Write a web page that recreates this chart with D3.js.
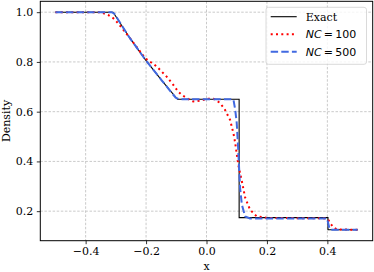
<!DOCTYPE html>
<html>
<head>
<meta charset="utf-8">
<script src="https://cdn.jsdelivr.net/npm/d3@7"></script>
<style>
  body { margin: 0; background: #fff; }
</style>
</head>
<body>
<div id="chart"></div>
<script>
// exact solution
const exactX = [-0.5, -0.309, -0.256, -0.203, -0.149, -0.096, 0.108, 0.108, 0.402, 0.402, 0.5];
const exactY = [1.0, 1.0, 0.90, 0.81, 0.727, 0.65, 0.65, 0.174, 0.174, 0.125, 0.125];

// NC = 100
const nc100X = [-0.5, -0.352, -0.326, -0.309, -0.293, -0.256, -0.203, -0.165, -0.132, -0.110, -0.094, -0.082, -0.066, -0.044, -0.022, 0.006, 0.023, 0.045, 0.061, 0.078, 0.089, 0.095, 0.105, 0.117, 0.128, 0.144, 0.166, 0.2, 0.39, 0.404, 0.412, 0.421, 0.432, 0.5];
const nc100Y = [1.0, 1.0, 0.989, 0.976, 0.956, 0.90, 0.815, 0.782, 0.741, 0.708, 0.681, 0.668, 0.655, 0.641, 0.644, 0.652, 0.652, 0.635, 0.608, 0.567, 0.514, 0.474, 0.387, 0.320, 0.254, 0.206, 0.179, 0.173, 0.171, 0.163, 0.147, 0.134, 0.127, 0.125];

// NC = 500
const nc500X = [-0.5, -0.314, -0.305, -0.256, -0.203, -0.149, -0.102, -0.09, 0.089, 0.095, 0.1, 0.105, 0.111, 0.117, 0.128, 0.144, 0.399, 0.407, 0.412, 0.5];
const nc500Y = [1.0, 1.0, 0.994, 0.90, 0.81, 0.727, 0.656, 0.65, 0.65, 0.608, 0.555, 0.447, 0.295, 0.226, 0.179, 0.171, 0.171, 0.13, 0.125, 0.125];

const xTicks = [-0.4, -0.2, 0.0, 0.2, 0.4];
const yTicks = [0.2, 0.4, 0.6, 0.8, 1.0];

const w = 374, h = 272;
const padL = 40.3, padR = 372.7, padT = 1.3, padB = 240.7;
const serif = '"DejaVu Serif", serif';
const sans = '"DejaVu Sans", sans-serif';

const svg = d3.select('#chart').append('svg')
  .attr('width', w).attr('height', h);

const xScale = d3.scaleLinear().domain([-0.55, 0.55]).range([padL, padR]);
const yScale = d3.scaleLinear().domain([0.08125, 1.04375]).range([padB, padT]);

// grid
svg.append('g').selectAll('line').data(xTicks).enter().append('line')
  .attr('x1', d => xScale(d)).attr('x2', d => xScale(d))
  .attr('y1', padT).attr('y2', padB)
  .attr('stroke', '#bcbcbc').attr('stroke-width', 0.8).attr('stroke-dasharray', '2.5,1.6');
svg.append('g').selectAll('line').data(yTicks).enter().append('line')
  .attr('y1', d => yScale(d)).attr('y2', d => yScale(d))
  .attr('x1', padL).attr('x2', padR)
  .attr('stroke', '#bcbcbc').attr('stroke-width', 0.8).attr('stroke-dasharray', '2.5,1.6');

const line = d3.line().x(d => xScale(d[0])).y(d => yScale(d[1]));
const zip = (a, b) => a.map((v, i) => [v, b[i]]);

svg.append('path').datum(zip(exactX, exactY)).attr('d', line)
  .attr('fill', 'none').attr('stroke', '#000').attr('stroke-width', 1.1);
svg.append('path').datum(zip(nc100X, nc100Y)).attr('d', line)
  .attr('fill', 'none').attr('stroke', 'red').attr('stroke-width', 2)
  .attr('stroke-dasharray', '2,3.3');
svg.append('path').datum(zip(nc500X, nc500Y)).attr('d', line)
  .attr('fill', 'none').attr('stroke', '#4169e1').attr('stroke-width', 2)
  .attr('stroke-dasharray', '7.4,3.2');

// axes
const fmt = d => d3.format('.1f')(d).replace('-', '\u2212');
const xAxis = d3.axisBottom(xScale).tickValues(xTicks).tickFormat(fmt).tickSize(3.5).tickPadding(3.5);
const yAxis = d3.axisLeft(yScale).tickValues(yTicks).tickFormat(fmt).tickSize(3.5).tickPadding(3.5);

const gx = svg.append('g').attr('transform', 'translate(0,' + padB + ')').call(xAxis);
const gy = svg.append('g').attr('transform', 'translate(' + padL + ',0)').call(yAxis);
[gx, gy].forEach(g => {
  g.select('.domain').remove();
  g.attr('font-family', serif).attr('font-size', 11);
  g.selectAll('text').attr('fill', '#000');
  g.selectAll('line').attr('stroke', '#000').attr('stroke-width', 0.8);
});

svg.append('rect')
  .attr('x', padL).attr('y', padT).attr('width', padR - padL).attr('height', padB - padT)
  .attr('fill', 'none').attr('stroke', '#000').attr('stroke-width', 1);

svg.append('text').attr('x', (padL + padR) / 2).attr('y', 270)
  .attr('text-anchor', 'middle').attr('font-family', serif).attr('font-size', 11).text('x');
svg.append('text').attr('transform', 'translate(10,' + ((padT + padB) / 2) + ') rotate(-90)')
  .attr('text-anchor', 'middle').attr('font-family', serif).attr('font-size', 11).text('Density');

// legend
const lg = svg.append('g');
lg.append('rect').attr('x', 266).attr('y', 7.3).attr('width', 100.5).attr('height', 57)
  .attr('rx', 2.5).attr('fill', '#fff').attr('fill-opacity', 0.8)
  .attr('stroke', '#d0d0d0').attr('stroke-width', 0.8);

const legendItems = [
  { name: 'Exact', color: '#000', width: 1.1, dash: null },
  { name: '100', color: 'red', width: 2, dash: '2,3.3' },
  { name: '500', color: '#4169e1', width: 2, dash: '7.4,3.2' }
];
legendItems.forEach((it, i) => {
  const yy = 16.7 + i * 17.5;
  lg.append('line').attr('x1', 270.7).attr('x2', 296.7).attr('y1', yy).attr('y2', yy)
    .attr('stroke', it.color).attr('stroke-width', it.width)
    .attr('stroke-dasharray', it.dash);
  const t = lg.append('text').attr('x', 305.7).attr('y', yy + 4).attr('font-size', 11);
  if (i === 0) {
    t.attr('font-family', serif).text(it.name);
  } else {
    t.attr('font-family', sans);
    t.append('tspan').attr('font-style', 'italic').text('NC');
    t.append('tspan').text('\u2009=\u2009' + it.name);
  }
});
</script>
</body>
</html>
